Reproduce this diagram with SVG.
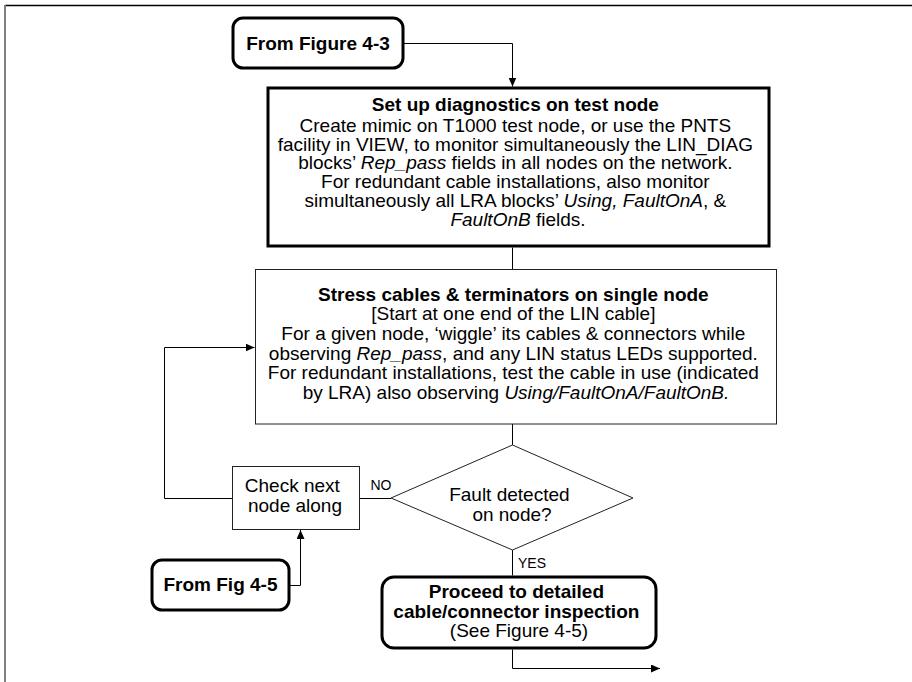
<svg xmlns="http://www.w3.org/2000/svg" width="912" height="682" viewBox="0 0 912 682">
  <defs>
    <style>
      text { font-family: "Liberation Sans", Arial, sans-serif; fill: #000; }
      .t { font-size: 19px; text-anchor: middle; }
      .b { font-weight: bold; }
      .i { font-style: italic; }
      .lbl { font-size: 14px; }
      .thick { fill: #fff; stroke: #000; stroke-width: 3; }
      .thin { fill: #fff; stroke: #222; stroke-width: 1; }
      .conn { fill: none; stroke: #000; stroke-width: 1; }
    </style>
    <marker id="arrow" markerWidth="10" markerHeight="8" refX="9" refY="4" orient="auto" markerUnits="userSpaceOnUse">
      <path d="M0,0 L9,4 L0,8 z" fill="#000"/>
    </marker>
  </defs>

  <rect width="912" height="682" fill="#fff"/>

  <!-- page frame -->
  <line x1="5" y1="5.5" x2="912" y2="5.5" stroke="#000" stroke-width="1.5"/>
  <line x1="5" y1="5" x2="5" y2="682" stroke="#808080" stroke-width="2"/>

  <!-- connectors -->
  <g id="connectors" class="conn">
    <path d="M403,43.5 H512.5 V86.5" marker-end="url(#arrow)"/>
    <path d="M512.5,247.5 V269.5"/>
    <path d="M512.5,424 V445"/>
    <path d="M359,498.5 H391"/>
    <path d="M232,498.5 H164.5 V347.5 H254.5" marker-end="url(#arrow)"/>
    <path d="M512.5,550 V575.5"/>
    <path d="M289,585.5 H300.5 V530" marker-end="url(#arrow)"/>
    <path d="M512.5,649.5 V668.5 H660" marker-end="url(#arrow)"/>
  </g>

  <!-- connector labels -->
  <text class="lbl" x="381" y="490" text-anchor="middle">NO</text>
  <text class="lbl" x="518" y="568">YES</text>

  <g id="from-fig-4-3">
    <rect class="thick" x="233" y="18" width="170" height="50" rx="10"/>
    <text class="t b" x="318" y="50">From Figure 4-3</text>
  </g>

  <g id="setup-diagnostics">
    <rect class="thick" x="268" y="88" width="501" height="158"/>
    <text class="t" x="518">
      <tspan class="b" x="518" y="111">Set up diagnostics on test node</tspan>
      <tspan x="518" y="131.5">Create mimic on T1000 test node, or use the PNTS</tspan>
      <tspan x="518" y="150.5">facility in VIEW, to monitor simultaneously the LIN_DIAG</tspan>
      <tspan x="518" y="169">blocks’ <tspan class="i">Rep_pass</tspan> fields in all nodes on the network.</tspan>
      <tspan x="518" y="188">For redundant cable installations, also monitor</tspan>
      <tspan x="518" y="207">simultaneously all LRA blocks’ <tspan class="i">Using, FaultOnA</tspan>, &amp;</tspan>
      <tspan x="518" y="226"><tspan class="i">FaultOnB</tspan> fields.</tspan>
    </text>
  </g>

  <g id="stress-cables">
    <rect class="thin" x="255.5" y="269.5" width="521" height="154.5"/>
    <text class="t" x="516">
      <tspan class="b" x="516" y="301">Stress cables &amp; terminators on single node</tspan>
      <tspan x="516" y="320">[Start at one end of the LIN cable]</tspan>
      <tspan x="516" y="340">For a given node, ‘wiggle’ its cables &amp; connectors while</tspan>
      <tspan x="516" y="359.5">observing <tspan class="i">Rep_pass</tspan>, and any LIN status LEDs supported.</tspan>
      <tspan x="516" y="379">For redundant installations, test the cable in use (indicated</tspan>
      <tspan x="516" y="398.5">by LRA) also observing <tspan class="i">Using/FaultOnA/FaultOnB.</tspan></tspan>
    </text>
  </g>

  <g id="fault-detected">
    <polygon class="thin" points="512.5,445 633,498 512.5,550 391,498"/>
    <text class="t" x="512">
      <tspan x="512" y="500.5">Fault detected</tspan>
      <tspan x="512" y="520.5">on node?</tspan>
    </text>
  </g>

  <g id="check-next-node">
    <rect class="thin" x="232.5" y="466.5" width="127" height="63"/>
    <text class="t" x="295">
      <tspan x="295" y="492">Check next</tspan>
      <tspan x="295" y="512">node along</tspan>
    </text>
  </g>

  <g id="from-fig-4-5">
    <rect class="thick" x="152" y="560" width="137" height="50" rx="10"/>
    <text class="t b" x="220.5" y="591">From Fig 4-5</text>
  </g>

  <g id="detailed-inspection">
    <rect class="thick" x="382" y="577" width="274" height="71" rx="12"/>
    <text class="t" x="519">
      <tspan class="b" x="519" y="598">Proceed to detailed</tspan>
      <tspan class="b" x="519" y="617.5">cable/connector inspection</tspan>
      <tspan x="519" y="636.5">(See Figure 4-5)</tspan>
    </text>
  </g>
</svg>
